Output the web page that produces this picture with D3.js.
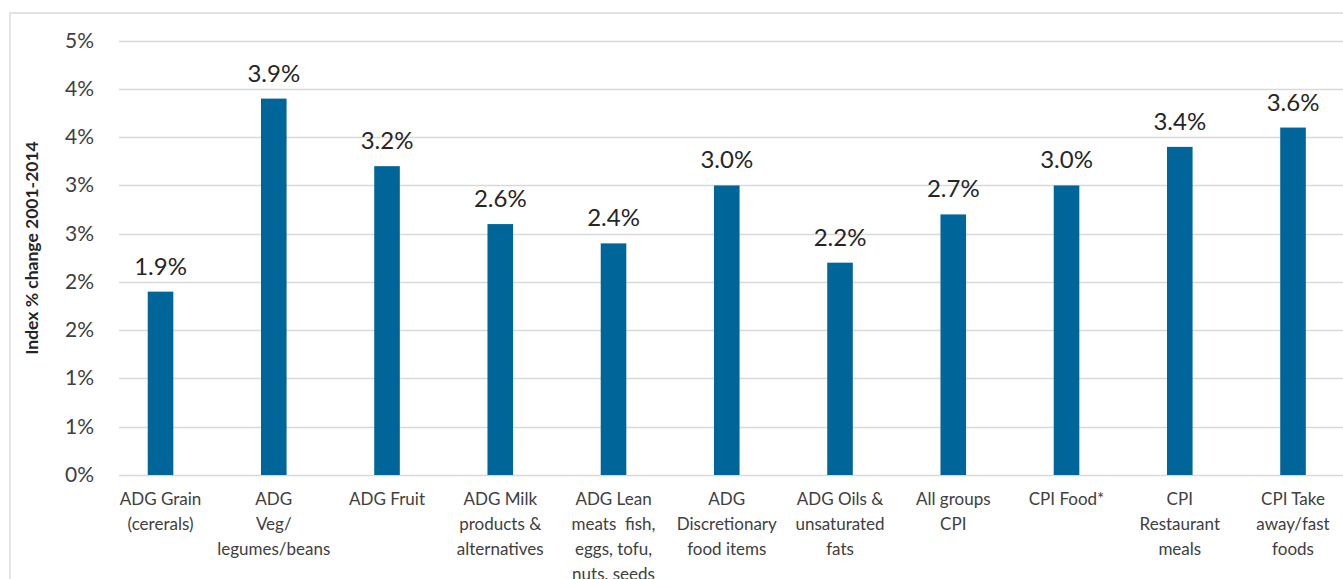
<!DOCTYPE html>
<html>
<head>
<meta charset="utf-8">
<script src="https://cdn.jsdelivr.net/npm/d3@7"></script>
<style>
  html, body { margin: 0; padding: 0; background: #fff; overflow: hidden; }
  svg { display: block; font-family: Lato, "Open Sans", "Liberation Sans", sans-serif; }
  .grid line { stroke: #d9d9d9; stroke-width: 1.3; }
  .tick-label { fill: #404040; font-size: 21px; }
  .value-label { fill: #262626; font-size: 24px; }
  .cat-label { fill: #404040; font-size: 17px; white-space: pre; }
  .y-title { fill: #262626; font-size: 17.5px; font-weight: bold; }
</style>
</head>
<body>
<svg id="chart" width="1343" height="579"></svg>
<script>
// Category labels, pre-wrapped as in the source chart
const categories = [
  ["ADG Grain", "(cererals)"],
  ["ADG", "Veg/", "legumes/beans"],
  ["ADG Fruit"],
  ["ADG Milk", "products &", "alternatives"],
  ["ADG Lean", "meats\u00a0 fish,", "eggs, tofu,", "nuts, seeds"],
  ["ADG", "Discretionary", "food items"],
  ["ADG Oils &", "unsaturated", "fats"],
  ["All groups", "CPI"],
  ["CPI Food*"],
  ["CPI", "Restaurant", "meals"],
  ["CPI Take", "away/fast", "foods"],
];
const values = [1.9, 3.9, 3.2, 2.6, 2.4, 3.0, 2.2, 2.7, 3.0, 3.4, 3.6];
// Excel-style axis: 0.5% steps rounded to whole percent
const yTicks = [0, 0.5, 1, 1.5, 2, 2.5, 3, 3.5, 4, 4.5];

const W = 1343, H = 579;
const svg = d3.select("#chart");

// chart area frame (cut off on right and bottom)
svg.append("path")
  .attr("d", `M10,${H + 2}V13H${W + 2}`)
  .attr("fill", "none").attr("stroke", "#d9d9d9").attr("stroke-width", 1.3);

const plot = { left: 119, right: W, top: 40.7, bottom: 475 };

const x = d3.scaleBand()
  .domain(d3.range(categories.length))
  .range([103.9, 103.9 + 113.25 * categories.length]);
const y = d3.scaleLinear().domain([0, 4.5]).range([plot.bottom, plot.top]);

// gridlines
svg.append("g").attr("class", "grid")
  .selectAll("line").data(yTicks).join("line")
  .attr("x1", plot.left).attr("x2", plot.right)
  .attr("y1", d => Math.round(y(d)) + 0.5).attr("y2", d => Math.round(y(d)) + 0.5);

// y tick labels
svg.append("g").selectAll("text").data(yTicks).join("text")
  .attr("class", "tick-label")
  .attr("x", 94).attr("y", d => y(d) + 7)
  .attr("text-anchor", "end")
  .text(d => d3.format(".0%")(Math.round(d) / 100));

// y axis title
svg.append("text").attr("class", "y-title")
  .attr("transform", `translate(38,248) rotate(-90)`)
  .attr("text-anchor", "middle")
  .text("Index % change 2001-2014");

// bars
const barW = x.bandwidth() * 0.226;
svg.append("g").selectAll("rect").data(values).join("rect")
  .attr("x", (d, i) => x(i) + x.bandwidth() / 2 - barW / 2)
  .attr("width", barW)
  .attr("y", d => y(d))
  .attr("height", d => y(0) - y(d))
  .attr("fill", "#006699");

// value labels
svg.append("g").selectAll("text").data(values).join("text")
  .attr("class", "value-label")
  .attr("x", (d, i) => x(i) + x.bandwidth() / 2)
  .attr("y", d => y(d) - 17)
  .attr("text-anchor", "middle")
  .text(d => d.toFixed(1) + "%");

// category labels
const cg = svg.append("g").selectAll("text").data(categories).join("text")
  .attr("class", "cat-label")
  .attr("text-anchor", "middle")
  .attr("x", (d, i) => x(i) + x.bandwidth() / 2)
  .attr("y", 505);
cg.selectAll("tspan").data(d => d).join("tspan")
  .attr("x", function () { return this.parentNode.getAttribute("x"); })
  .attr("dy", (d, i) => i === 0 ? 0 : 25)
  .text(d => d);
</script>
</body>
</html>
